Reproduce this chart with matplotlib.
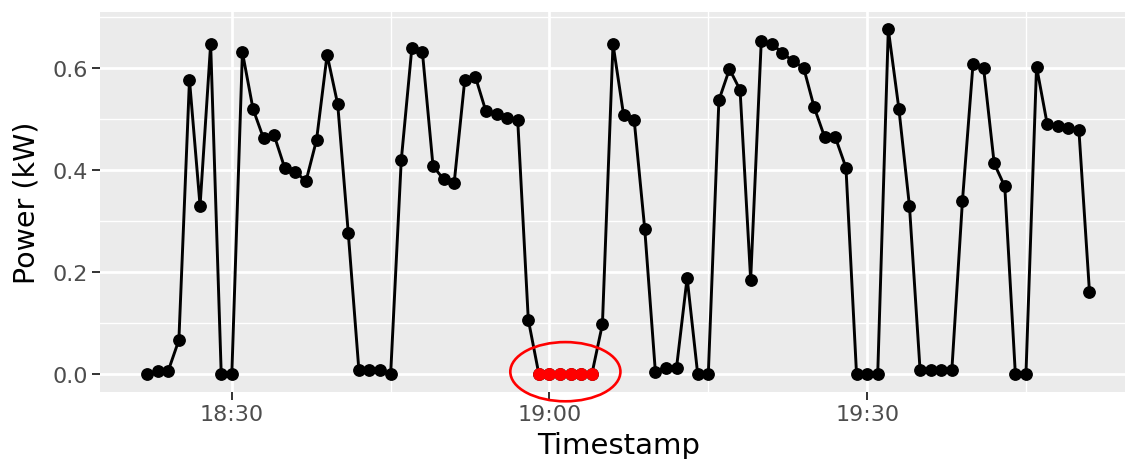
import matplotlib
matplotlib.use("Agg")
import matplotlib.pyplot as plt
import matplotlib.dates as mdates
from matplotlib.patches import Ellipse
from matplotlib.ticker import MultipleLocator, FormatStrFormatter
import pandas as pd

plt.rcParams['font.family'] = ['DejaVu Sans']

start_time = "2024-01-01 18:22"
power_kw = [
    0.000, 0.007, 0.007, 0.067, 0.577, 0.330, 0.647, 0.000, 0.000, 0.631,
    0.520, 0.462, 0.468, 0.404, 0.397, 0.378, 0.459, 0.626, 0.529, 0.276,
    0.008, 0.008, 0.008, 0.000, 0.419, 0.639, 0.631, 0.408, 0.382, 0.375,
    0.577, 0.583, 0.515, 0.509, 0.503, 0.498, 0.107, 0.000, 0.000, 0.000,
    0.000, 0.000, 0.000, 0.098, 0.647, 0.508, 0.498, 0.284, 0.005, 0.013,
    0.013, 0.189, 0.000, 0.000, 0.537, 0.598, 0.557, 0.185, 0.652, 0.647,
    0.630, 0.613, 0.601, 0.523, 0.464, 0.464, 0.405, 0.000, 0.000, 0.000,
    0.676, 0.520, 0.329, 0.008, 0.008, 0.008, 0.008, 0.339, 0.608, 0.600,
    0.413, 0.368, 0.000, 0.000, 0.603, 0.491, 0.486, 0.483, 0.479, 0.161,
]
# highlighted (red) run of zero readings
highlight_start = "2024-01-01 18:59"
highlight_end = "2024-01-01 19:04"

times = pd.date_range(start_time, periods=len(power_kw), freq="1min")
df = pd.DataFrame({"time": times, "power": power_kw})
hl = df[(df.time >= pd.Timestamp(highlight_start)) & (df.time <= pd.Timestamp(highlight_end))]

W, H = 1125, 460
fig = plt.figure(figsize=(W / 100, H / 100), dpi=100)
fig.patch.set_facecolor("white")
ax = fig.add_axes([100 / W, (460 - 392.5) / H, 1036.6 / W, (392.5 - 13) / H])
ax.set_facecolor("#EBEBEB")

tx = mdates.date2num(df.time)
ax.plot(tx, df.power, color="black", lw=2.1, zorder=3)
ax.plot(tx, df.power, "o", color="black", ms=8.2, zorder=4)
hx = mdates.date2num(hl.time)
ax.plot(hx, hl.power, "o", color="red", ms=8.2, zorder=5)

# limits with ggplot-style 5% expansion
x0, x1 = tx.min(), tx.max()
dx = (x1 - x0) * 0.05
ax.set_xlim(x0 - dx, x1 + dx)
ymax = max(power_kw)
ax.set_ylim(-0.05 * ymax, ymax * 1.05)

# ellipse around highlighted run
cx = hx.mean()
width = (hx.max() - hx.min()) * 2.08
ell = Ellipse((cx, 0.005), width=width, height=0.116, fill=False,
              edgecolor="red", lw=1.9, zorder=6, clip_on=False)
ax.add_patch(ell)

ax.xaxis.set_major_locator(mdates.MinuteLocator(byminute=[0, 30]))
ax.xaxis.set_minor_locator(mdates.MinuteLocator(byminute=[15, 45]))
ax.xaxis.set_major_formatter(mdates.DateFormatter("%H:%M"))
ax.yaxis.set_major_locator(MultipleLocator(0.2))
ax.yaxis.set_minor_locator(MultipleLocator(0.1))
ax.yaxis.set_major_formatter(FormatStrFormatter("%.1f"))

ax.grid(which="major", color="white", lw=2.0, zorder=0)
ax.grid(which="minor", color="white", lw=1.0, zorder=0)
ax.set_axisbelow(True)
for s in ax.spines.values():
    s.set_visible(False)

ax.tick_params(which="major", length=5.5, width=1.4, color="#333333",
               labelsize=16, labelcolor="#4D4D4D", pad=3.5)
ax.tick_params(which="minor", length=0)

ax.set_xlabel("Timestamp", fontsize=21, color="black", labelpad=5)
ax.set_ylabel("Power (kW)", fontsize=20.5, color="black", labelpad=8)

fig.savefig("out.png", dpi=100, facecolor="white")
